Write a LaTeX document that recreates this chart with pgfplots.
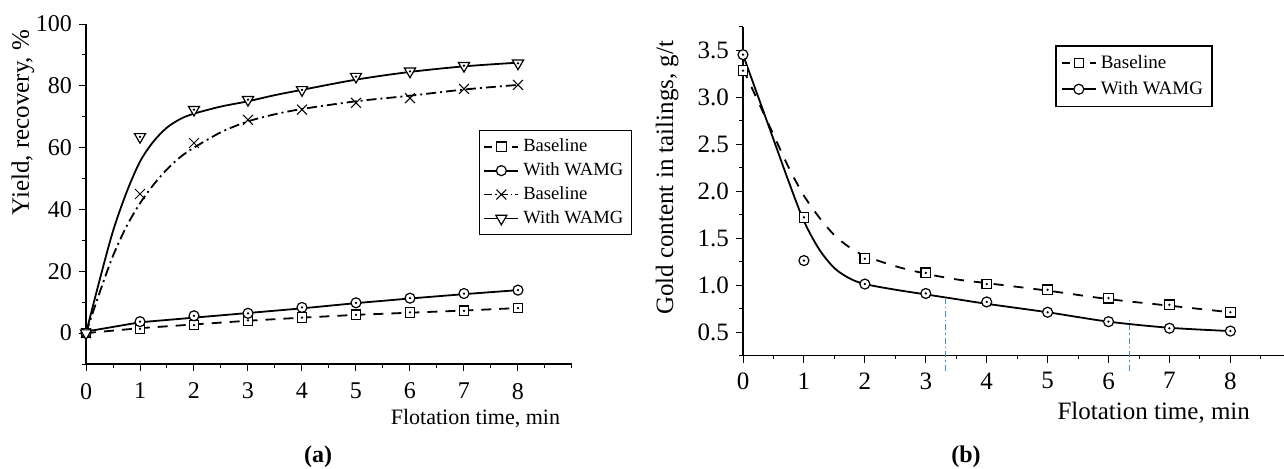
\documentclass[border=0pt]{standalone}
\usepackage{pgfplots}
\pgfplotsset{compat=1.18}
\usepackage{fontspec}
\setmainfont{Liberation Serif}
\definecolor{guideblue}{RGB}{70,135,210}
\pgfplotsset{
  common/.style={
    scale only axis, anchor=south west,
    axis lines=left, axis line style={-, line width=0.6pt},
    tick align=outside, major tick length=3.5pt, minor tick length=1.8pt,
    every tick/.style={black, line width=0.5pt},
    /pgf/number format/assume math mode=true,
    clip=false,
    legend cell align=left,
  },
  sqm/.style={only marks, mark=square*, mark size=2.4pt, mark options={fill=white, draw=black, solid, line width=0.6pt}, forget plot},
  cim/.style={only marks, mark=*, mark size=2.5pt, mark options={fill=white, draw=black, solid, line width=0.6pt}, forget plot},
  trm/.style={only marks, mark=triangle*, mark size=3.2pt, mark options={rotate=180, fill=white, draw=black, solid, line width=0.6pt}, forget plot},
  xm/.style={only marks, mark=x, mark size=3.5pt, mark options={black, solid, line width=0.5pt}, forget plot},
  dotm/.style={only marks, mark=*, mark size=0.35pt, black, forget plot},
}
\begin{document}
\begin{tikzpicture}
\path[use as bounding box] (0,0) rectangle (642pt,234pt);

% ---------------- panel (a) ----------------
\begin{axis}[common,
  at={(43pt,52pt)}, width=243pt, height=170pt,
  xmin=0, xmax=9, ymin=-10, ymax=100,
  xtick={0,1,2,3,4,5,6,7,8},
  minor xtick={0.5,1.5,2.5,3.5,4.5,5.5,6.5,7.5,8.5,9},
  ytick={0,20,40,60,80,100},
  minor ytick={-10,10,30,50,70,90},
  tick label style={font=\fontsize{12}{14}\selectfont},
  xticklabel style={yshift=-2.5pt},
  xlabel={Flotation time, min},
  xlabel style={at={(axis description cs:0.99,0)}, anchor=east, yshift=-27.5pt, font=\fontsize{11}{13}\selectfont},
  ylabel={Yield, recovery, \%},
  ylabel style={at={(axis description cs:-0.13,0.71)}, anchor=center, font=\fontsize{12.5}{14}\selectfont},
  legend style={at={(axis description cs:0.808,0.688)}, anchor=north west, draw=black, line width=0.7pt,
    font=\fontsize{9.3}{11}\selectfont, row sep=0pt, inner sep=2pt},
]
\addlegendimage{black, line width=0.9pt, dash pattern=on 4pt off 3pt, mark=square*, mark size=2.4pt, mark options={fill=white, solid, line width=0.6pt}}
\addlegendentry{Baseline}
\addlegendimage{black, line width=0.9pt, mark=*, mark size=2.5pt, mark options={fill=white, solid, line width=0.6pt}}
\addlegendentry{With WAMG}
\addlegendimage{black, line width=0.9pt, dash pattern=on 4pt off 1.5pt on 0.8pt off 1.5pt, mark=x, mark size=3.5pt, mark options={solid, line width=0.5pt}}
\addlegendentry{Baseline}
\addlegendimage{black, line width=0.9pt, mark=triangle*, mark size=3.2pt, mark options={rotate=180, fill=white, solid, line width=0.6pt}}
\addlegendentry{With WAMG}

% fitted curves
\addplot[black, line width=0.9pt, dash pattern=on 5pt off 4pt, forget plot] coordinates {
  (0,0) (1,1.6) (2,2.8) (3,4.0) (4,5.0) (5,5.9) (6,6.6) (7,7.3) (8,8.1)};
\addplot[black, line width=0.9pt, forget plot] coordinates {
  (0,0.5) (1,3.5) (2,5.0) (3,6.5) (4,8.0) (5,9.7) (6,11.2) (7,12.6) (8,13.9)};
\addplot[black, line width=0.9pt, smooth, tension=0.5, dash pattern=on 5pt off 2pt on 1pt off 2pt, forget plot] coordinates {
  (0,0) (0.25,13) (0.5,25) (0.75,34.5) (1,42) (1.25,48) (1.5,53) (1.75,57) (2,60) (2.5,65) (3,68.5) (3.5,70.8) (4,72.5) (5,75) (6,76.8) (7,78.8) (8,80.3)};
\addplot[black, line width=0.9pt, smooth, tension=0.5, forget plot] coordinates {
  (0,0) (0.25,17) (0.5,33) (0.75,45.5) (1,55.5) (1.25,62) (1.5,66.5) (1.75,69.3) (2,71) (2.5,73.3) (3,75) (3.5,77) (4,78.7) (5,82) (6,84.5) (7,86.3) (8,87.5)};

% data points
\addplot[sqm] coordinates {(0,0) (1,1.4) (2,2.6) (3,4.1) (4,5.0) (5,5.9) (6,6.7) (7,7.2) (8,8.1)};
\addplot[dotm] coordinates {(0,0) (1,1.4) (2,2.6) (3,4.1) (4,5.0) (5,5.9) (6,6.7) (7,7.2) (8,8.1)};
\addplot[cim] coordinates {(0,0) (1,3.7) (2,5.6) (3,6.4) (4,8.3) (5,9.8) (6,11.3) (7,12.8) (8,13.9)};
\addplot[dotm] coordinates {(0,0) (1,3.7) (2,5.6) (3,6.4) (4,8.3) (5,9.8) (6,11.3) (7,12.8) (8,13.9)};
\addplot[xm] coordinates {(0,0) (1,45) (2,61.5) (3,69) (4,72.3) (5,74.5) (6,76) (7,79) (8,80.3)};
\addplot[trm] coordinates {(0,0) (1,63.5) (2,72.3) (3,75.5) (4,78.7) (5,83) (6,84.7) (7,86.5) (8,87.3)};
\addplot[dotm] coordinates {(1,63.5) (2,72.3) (3,75.5) (4,78.7) (5,83) (6,84.7) (7,86.5) (8,87.3)};
\end{axis}

% ---------------- panel (b) ----------------
\begin{axis}[common,
  at={(371.5pt,56.25pt)}, width=270.5pt, height=164.5pt,
  xmin=0, xmax=8.88, ymin=0.25, ymax=3.75,
  xtick={0,1,2,3,4,5,6,7,8},
  minor xtick={0.5,1.5,2.5,3.5,4.5,5.5,6.5,7.5,8.5},
  ytick={0.5,1.0,1.5,2.0,2.5,3.0,3.5},
  minor ytick={0.25,0.75,1.25,1.75,2.25,2.75,3.25,3.75},
  yticklabel style={/pgf/number format/fixed, /pgf/number format/fixed zerofill, /pgf/number format/precision=1},
  tick label style={font=\fontsize{12.5}{14}\selectfont},
  xticklabel style={yshift=-1.5pt},
  xlabel={Flotation time, min},
  xlabel style={at={(axis description cs:0.95,0)}, anchor=east, yshift=-28.5pt, font=\fontsize{12.5}{14}\selectfont},
  ylabel={Gold content in tailings, g/t},
  ylabel style={at={(axis description cs:-0.14,0.54)}, anchor=center, font=\fontsize{12.5}{14}\selectfont},
  legend style={at={(axis description cs:0.577,0.943)}, anchor=north west, draw=black, line width=0.7pt,
    font=\fontsize{9.5}{11}\selectfont, row sep=1pt, inner sep=2.5pt},
]
\addlegendimage{black, line width=0.9pt, dash pattern=on 4pt off 3pt, mark=square*, mark size=2.2pt, mark options={fill=white, solid, line width=0.6pt}}
\addlegendentry{Baseline}
\addlegendimage{black, line width=0.9pt, mark=*, mark size=2.5pt, mark options={fill=white, solid, line width=0.6pt}}
\addlegendentry{With WAMG}

% guide lines
\addplot[guideblue, line width=0.6pt, dash pattern=on 3pt off 1.5pt on 0.7pt off 1.5pt, forget plot] coordinates {(3.33,0.09) (3.33,0.85)};
\addplot[guideblue, line width=0.6pt, dash pattern=on 3pt off 1.5pt on 0.7pt off 1.5pt, forget plot] coordinates {(6.34,0.09) (6.34,0.66)};

% fitted curves
\addplot[black, line width=0.9pt, smooth, tension=0.5, dash pattern=on 5pt off 5pt, forget plot] coordinates {
  (0,3.3) (0.25,2.95) (0.5,2.6) (0.75,2.25) (1,1.95) (1.25,1.72) (1.5,1.53) (1.75,1.4) (2,1.31) (2.5,1.2) (3,1.12) (3.5,1.06) (4,1.02) (5,0.94) (6,0.85) (7,0.78) (8,0.71)};
\addplot[black, line width=0.9pt, smooth, tension=0.5, forget plot] coordinates {
  (0,3.45) (0.25,3.0) (0.5,2.55) (0.75,2.1) (1,1.68) (1.25,1.38) (1.5,1.18) (1.75,1.07) (2,1.01) (2.5,0.95) (3,0.9) (3.5,0.85) (4,0.8) (5,0.71) (6,0.61) (7,0.545) (8,0.51)};

% data points
\addplot[sqm] coordinates {(0,3.28) (1,1.72) (2,1.28) (3,1.13) (4,1.01) (5,0.95) (6,0.86) (7,0.79) (8,0.71)};
\addplot[dotm] coordinates {(0,3.28) (1,1.72) (2,1.28) (3,1.13) (4,1.01) (5,0.95) (6,0.86) (7,0.79) (8,0.71)};
\addplot[cim] coordinates {(0,3.45) (1,1.26) (2,1.01) (3,0.91) (4,0.82) (5,0.71) (6,0.61) (7,0.54) (8,0.51)};
\addplot[dotm] coordinates {(0,3.45) (1,1.26) (2,1.01) (3,0.91) (4,0.82) (5,0.71) (6,0.61) (7,0.54) (8,0.51)};
\end{axis}

\node[font=\bfseries\fontsize{12}{14}\selectfont] at (159pt,5.5pt) {(a)};
\node[font=\bfseries\fontsize{12}{14}\selectfont] at (483pt,5.5pt) {(b)};
\end{tikzpicture}
\end{document}
